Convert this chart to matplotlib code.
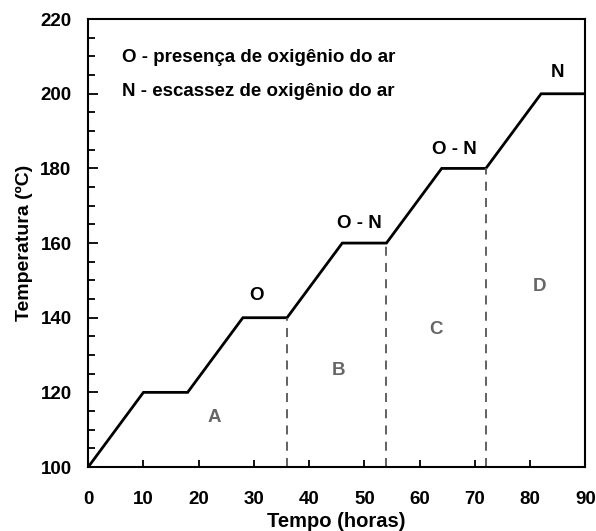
import matplotlib.pyplot as plt

# heating program: time (h) vs oven temperature (ºC)
tempo = [0, 10, 18, 28, 36, 46, 54, 64, 72, 82, 90]
temperatura = [100, 120, 120, 140, 140, 160, 160, 180, 180, 200, 200]

# boundaries between stages A-D
limites_x = [36, 54, 72]
limites_y = [140, 160, 180]

etapas = ['A', 'B', 'C', 'D']
etapas_x = [22.8, 45.3, 62.9, 81.7]
etapas_y = [113.3, 125.9, 136.8, 148.3]

atmosfera = ['O', 'O - N', 'O - N', 'N']
atmosfera_x = [30.4, 49.1, 66.3, 85.0]
atmosfera_y = [146.0, 165.2, 185.0, 205.8]

legenda = ['O - presença de oxigênio do ar', 'N - escassez de oxigênio do ar']

plt.rcParams['font.family'] = ['Liberation Sans', 'DejaVu Sans']
plt.rcParams['font.weight'] = 'bold'

fs = 13.5

fig = plt.figure(figsize=(5.96, 5.31), dpi=100)
ax = fig.add_axes([0.148, 0.1205, 0.834, 0.8435])

ax.plot(tempo, temperatura, color='black', lw=2, solid_joinstyle='miter')
for xv, yv in zip(limites_x, limites_y):
    ax.plot([xv, xv], [100, yv], color='#555555', lw=1.3, ls=(0, (5, 4)))

for s, xv, yv in zip(etapas, etapas_x, etapas_y):
    ax.text(xv, yv, s, color='#666666', fontsize=fs, fontweight='bold',
            ha='center', va='center')
for s, xv, yv in zip(atmosfera, atmosfera_x, atmosfera_y):
    ax.text(xv, yv, s, color='black', fontsize=fs, fontweight='bold',
            ha='center', va='center')

ax.text(6.2, 209.8, legenda[0], fontsize=fs, fontweight='bold', va='center')
ax.text(6.2, 200.5, legenda[1], fontsize=fs, fontweight='bold', va='center')

ax.set_xlim(0, 90)
ax.set_ylim(100, 220)
ax.set_xticks(range(0, 91, 10))
ax.set_yticks(range(100, 221, 20))
ax.set_yticks(range(100, 221, 5), minor=True)
ax.tick_params(axis='both', which='both', direction='in', labelsize=fs,
               width=1.3, top=False, right=False)
ax.tick_params(axis='y', which='major', length=7, pad=12)
ax.tick_params(axis='y', which='minor', length=5)
ax.tick_params(axis='x', which='major', length=5, pad=17)
for sp in ax.spines.values():
    sp.set_linewidth(1.5)

ax.set_xlabel('Tempo (horas)', fontsize=14.5, fontweight='bold', labelpad=3)
ax.set_ylabel('Temperatura (ºC)', fontsize=14, fontweight='bold', labelpad=5)

fig.savefig('out.png', dpi=100)
